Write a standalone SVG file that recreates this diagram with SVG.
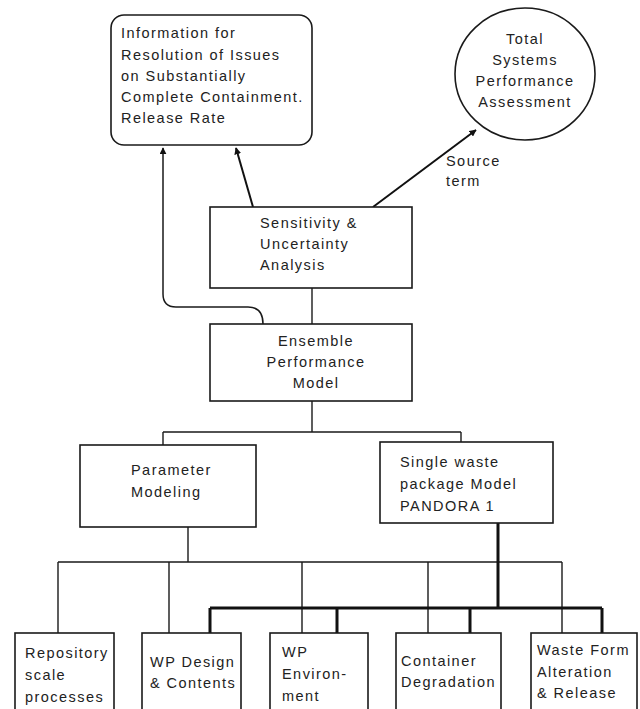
<svg xmlns="http://www.w3.org/2000/svg" width="640" height="709" viewBox="0 0 640 709">
<style>
.box{fill:#fff;stroke:#1a1a1a;stroke-width:1.6}
.t{font-family:"Liberation Sans",Arial,sans-serif;font-size:14.5px;fill:#222;letter-spacing:1.45px}
.c{text-anchor:middle}
.thin{fill:none;stroke:#1a1a1a;stroke-width:1.4}
.thick{fill:none;stroke:#111;stroke-width:3}
.arr{fill:none;stroke:#111;stroke-width:2;marker-end:url(#ah)}
.arrt{fill:none;stroke:#1a1a1a;stroke-width:1.5;marker-end:url(#ah)}
</style>
<defs>
<marker id="ah" viewBox="0 0 10 10" refX="9" refY="5" markerWidth="7" markerHeight="7" markerUnits="userSpaceOnUse" orient="auto">
<path d="M0,0 L10,5 L0,10 z" fill="#111"/>
</marker>
</defs>
<rect width="640" height="709" fill="#fff"/>
<g id="connectors">
<path class="arrt" d="M263,324 Q263,307 248,307 L176,307 Q163,307 163,294 L163,148"/>
<path class="arr" d="M253,207 L236,148"/>
<path class="arr" d="M373,207 L476,130"/>
<path class="thin" d="M312,288 L312,324"/>
<path class="thin" d="M312,401 L312,432 M163,432 L461,432 M163,432 L163,445 M461,432 L461,442"/>
<path class="thin" d="M188,527 L188,562 M58,562 L562,562 M58,562 L58,633 M169,562 L169,633 M302,562 L302,633 M428,562 L428,633 M562,562 L562,633"/>
<path class="thick" d="M498,523 L498,608 M210,608 L602,608 M210,608 L210,633 M337,608 L337,633 M470,608 L470,633 M602,608 L602,633"/>
<text class="t" x="446" y="166">Source</text>
<text class="t" x="446" y="186">term</text>
</g>
<g id="info">
<rect class="box" x="111" y="15" width="201" height="130" rx="13"/>
<text class="t" x="121" y="38">Information for</text>
<text class="t" x="121" y="60">Resolution of Issues</text>
<text class="t" x="121" y="81">on Substantially</text>
<text class="t" x="121" y="102">Complete Containment.</text>
<text class="t" x="121" y="123">Release Rate</text>
</g>
<g id="tspa">
<ellipse class="box" cx="525" cy="74" rx="70" ry="66"/>
<text class="t c" x="525" y="44">Total</text>
<text class="t c" x="525" y="65">Systems</text>
<text class="t c" x="525" y="86">Performance</text>
<text class="t c" x="525" y="107">Assessment</text>
</g>
<g id="sensitivity">
<rect class="box" x="210" y="207" width="202" height="81"/>
<text class="t" x="260" y="228">Sensitivity &amp;</text>
<text class="t" x="260" y="249">Uncertainty</text>
<text class="t" x="260" y="270">Analysis</text>
</g>
<g id="ensemble">
<rect class="box" x="210" y="324" width="202" height="77"/>
<text class="t c" x="316" y="346">Ensemble</text>
<text class="t c" x="316" y="367">Performance</text>
<text class="t c" x="316" y="388">Model</text>
</g>
<g id="parameter">
<rect class="box" x="80" y="445" width="176" height="82"/>
<text class="t" x="131" y="475">Parameter</text>
<text class="t" x="131" y="497">Modeling</text>
</g>
<g id="pandora">
<rect class="box" x="380" y="442" width="173" height="81"/>
<text class="t" x="400" y="467">Single waste</text>
<text class="t" x="400" y="489">package Model</text>
<text class="t" x="400" y="511">PANDORA 1</text>
</g>
<g id="repository">
<rect class="box" x="15" y="633" width="99" height="90"/>
<text class="t" x="25" y="658">Repository</text>
<text class="t" x="25" y="680">scale</text>
<text class="t" x="25" y="702">processes</text>
</g>
<g id="wpdesign">
<rect class="box" x="142" y="633" width="99" height="90"/>
<text class="t" x="150" y="667">WP Design</text>
<text class="t" x="150" y="688">&amp; Contents</text>
</g>
<g id="wpenv">
<rect class="box" x="270" y="633" width="98" height="90"/>
<text class="t" x="282" y="657">WP</text>
<text class="t" x="282" y="679">Environ-</text>
<text class="t" x="282" y="701">ment</text>
</g>
<g id="container">
<rect class="box" x="396" y="633" width="105" height="90"/>
<text class="t" x="401" y="666">Container</text>
<text class="t" x="401" y="687">Degradation</text>
</g>
<g id="wasteform">
<rect class="box" x="531" y="633" width="106" height="90"/>
<text class="t" x="537" y="655">Waste Form</text>
<text class="t" x="537" y="677">Alteration</text>
<text class="t" x="537" y="698">&amp; Release</text>
</g>
</svg>
